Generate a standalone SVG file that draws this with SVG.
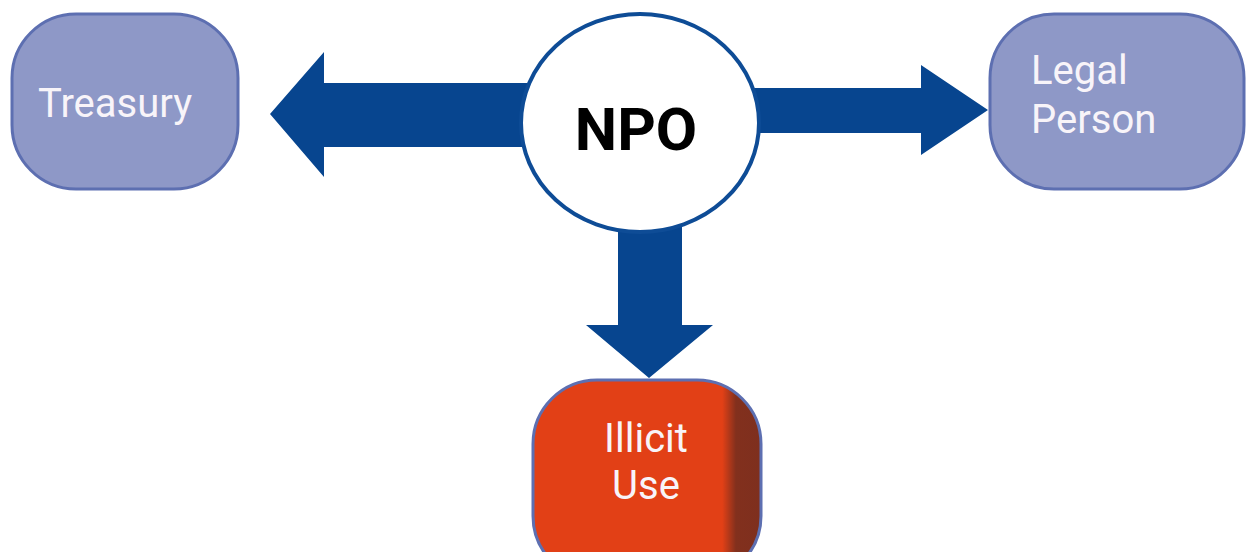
<svg xmlns="http://www.w3.org/2000/svg" width="1251" height="552" viewBox="0 0 1251 552">
<defs>
<style>
.box{fill:#8E98C7;stroke:#5D6FB1;stroke-width:3}
.lbl{font-family:Roboto,"Liberation Sans",sans-serif;font-size:40px;fill:#F8F4F9}
.arrow{fill:#07458F}
.npo{font-family:Roboto,"Liberation Sans",sans-serif;font-size:60px;font-weight:bold;fill:#000}
</style>
<linearGradient id="redGrad" x1="533" y1="0" x2="761" y2="0" gradientUnits="userSpaceOnUse">
<stop offset="0" stop-color="#E24016"/>
<stop offset="0.83" stop-color="#E24016"/>
<stop offset="0.89" stop-color="#82301D"/>
<stop offset="1" stop-color="#7E2F1E"/>
</linearGradient>
</defs>
<rect width="1251" height="552" fill="#FFFFFF"/>
<g id="connectors">
<polygon class="arrow" points="540,83 324,83 324,52 270,114 324,177 324,147 540,147"/>
<polygon class="arrow" points="740,88 921,88 921,65 988,110 921,155 921,133 740,133"/>
<polygon class="arrow" points="618,215 682,215 682,325 713,325 649,378 586,325 618,325"/>
</g>
<g id="npo">
<ellipse cx="640" cy="123" rx="119" ry="109" fill="#FFFFFF" stroke="#0E4C96" stroke-width="4"/>
<text class="npo" x="636" y="150" text-anchor="middle">NPO</text>
</g>
<g id="treasury">
<rect class="box" x="12" y="14" width="226" height="175" rx="64" ry="64"/>
<text class="lbl" x="38" y="117">Treasury</text>
</g>
<g id="legal-person">
<rect class="box" x="990" y="14" width="254" height="175" rx="64" ry="64"/>
<text class="lbl" x="1031" y="84">Legal</text>
<text class="lbl" x="1031" y="133">Person</text>
</g>
<g id="illicit-use">
<rect x="533" y="380" width="228" height="200" rx="64" ry="64" fill="url(#redGrad)" stroke="#5D6FB1" stroke-width="3"/>
<text class="lbl" x="646" y="452" text-anchor="middle">Illicit</text>
<text class="lbl" x="646" y="499" text-anchor="middle">Use</text>
</g>
</svg>
